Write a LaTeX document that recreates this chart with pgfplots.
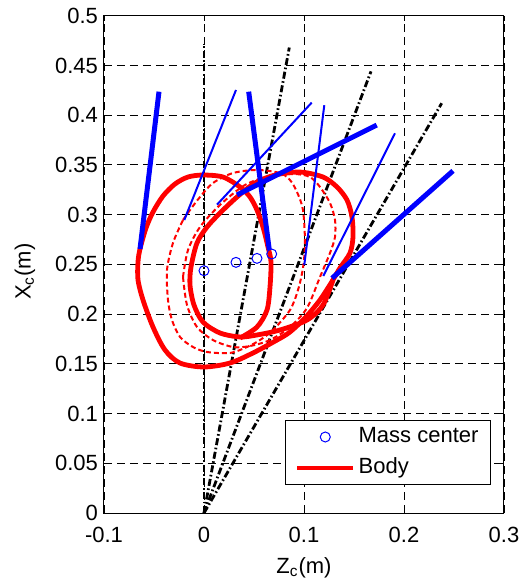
\documentclass[border=0pt]{standalone}
\usepackage{fontspec}
\setmainfont{Liberation Sans}
\usepackage{pgfplots}
\pgfplotsset{compat=1.18}
\definecolor{mblue}{RGB}{0,0,255}
\definecolor{mred}{RGB}{255,0,0}
\begin{document}
\begin{tikzpicture}[font=\fontsize{11bp}{13bp}\selectfont]
\useasboundingbox (-52bp,-33.5bp) rectangle (207.5bp,256.5bp);
\begin{axis}[
  scale only axis, width=200bp, height=248.65bp,
  xmin=-0.1, xmax=0.3, ymin=0, ymax=0.5,
  xtick={-0.1,0,0.1,0.2,0.3}, xticklabels={-0.1,0,0.1,0.2,0.3},
  ytick={0,0.05,0.1,0.15,0.2,0.25,0.3,0.35,0.4,0.45,0.5},
  yticklabels={0,0.05,0.1,0.15,0.2,0.25,0.3,0.35,0.4,0.45,0.5},
  tick align=inside, major tick length=2.5bp,
  tick style={black, line width=0.4bp},
  axis line style={black, line width=0.5bp},
  grid=major, grid style={black, line width=0.45bp, dash pattern=on 4bp off 2.5bp},
  xticklabel style={yshift=-3.5bp},
  yticklabel style={xshift=0.5bp},
  xlabel={Z\textsubscript{c}(m)}, ylabel={X\textsubscript{c}(m)},
  xlabel style={at={(axis description cs:0.5,-0.11)}, anchor=center},
  ylabel style={at={(axis description cs:-0.1975,0.485)}, anchor=center, rotate=0},
  legend cell align=left,
  legend image code/.code={\draw[mark repeat=2,mark phase=2,#1] plot coordinates {(0bp,0bp) (14bp,0bp) (28bp,0bp)};},
  legend style={at={(rel axis cs:0.9675,0.0563)}, anchor=south east, draw=black, line width=0.5bp,
    inner xsep=4.5bp, inner ysep=1.5bp, row sep=2bp,
    nodes={inner sep=1.5bp, text height=8bp, text depth=2.5bp},
    /tikz/every even column/.append style={column sep=0bp}},
]
% dash-dot rays
\addplot[forget plot, black, line width=1.4bp, dash pattern=on 3.5bp off 1.3bp on 0.8bp off 1.3bp] coordinates {(0,0) (0,0.472)};
\addplot[forget plot, black, line width=1.4bp, dash pattern=on 3.5bp off 1.3bp on 0.8bp off 1.3bp] coordinates {(0,0) (0.0853,0.468)};
\addplot[forget plot, black, line width=1.4bp, dash pattern=on 3.5bp off 1.3bp on 0.8bp off 1.3bp] coordinates {(0,0) (0.167,0.444)};
\addplot[forget plot, black, line width=1.4bp, dash pattern=on 3.5bp off 1.3bp on 0.8bp off 1.3bp] coordinates {(0,0) (0.2377,0.412)};
% red dashed loops
\addplot[forget plot, mred, line width=1bp, dash pattern=on 2.5bp off 1.5bp, smooth] coordinates {
(-0.021,0.2946) (-0.014,0.3046) (-0.004,0.3177) (0.009,0.3318) (0.029,0.3418) (0.053,0.3449)
(0.076,0.3418) (0.086,0.3348) (0.093,0.3227) (0.099,0.3046) (0.101,0.2715) (0.099,0.2464)
(0.094,0.2242) (0.086,0.2041) (0.069,0.1840) (0.056,0.1739) (0.043,0.1669) (0.026,0.1609)
(0.003,0.1619) (-0.011,0.1669) (-0.024,0.1770) (-0.032,0.1940) (-0.036,0.2142) (-0.037,0.2443)
(-0.031,0.2715) (-0.021,0.2946)};
\addplot[forget plot, mred, line width=1bp, dash pattern=on 2.5bp off 1.5bp, smooth] coordinates {
(-0.021,0.2373) (-0.016,0.2644) (-0.004,0.2875) (0.016,0.3097) (0.041,0.3298) (0.066,0.3388)
(0.091,0.3408) (0.106,0.3378) (0.116,0.3278) (0.126,0.3117) (0.131,0.2946) (0.131,0.2775)
(0.126,0.2614) (0.116,0.2373) (0.103,0.2061) (0.086,0.1870) (0.066,0.1739) (0.046,0.1679)
(0.029,0.1669) (0.009,0.1739) (-0.007,0.1870) (-0.017,0.2091) (-0.021,0.2373)};
% red solid
\addplot[forget plot, mred, line width=2.4bp, smooth] coordinates {
(0.036,0.1759) (0.053,0.1870) (0.063,0.2041) (0.066,0.2272) (0.067,0.2524) (0.064,0.2674)
(0.059,0.2875) (0.053,0.3046) (0.046,0.3177) (0.036,0.3278) (0.019,0.3378) (-0.001,0.3398)
(-0.016,0.3378) (-0.029,0.3308) (-0.041,0.3187) (-0.051,0.3026) (-0.058,0.2865) (-0.064,0.2654)
(-0.066,0.2524) (-0.066,0.2343) (-0.061,0.2142) (-0.051,0.1870) (-0.039,0.1639) (-0.024,0.1508)
(0.000,0.1468) (0.026,0.1508) (0.049,0.1609) (0.073,0.1739) (0.086,0.1820) (0.101,0.1961)
(0.116,0.2142) (0.129,0.2343)};
\addplot[forget plot, mred, line width=2.4bp, smooth] coordinates {
(0.129,0.2343) (0.136,0.2464) (0.146,0.2614) (0.149,0.2775) (0.148,0.2976) (0.143,0.3147)
(0.133,0.3278) (0.119,0.3378) (0.096,0.3428) (0.071,0.3398) (0.051,0.3318) (0.033,0.3177)
(0.016,0.3016) (0.003,0.2875) (-0.007,0.2715) (-0.013,0.2473) (-0.014,0.2292) (-0.010,0.2091)
(-0.001,0.1920) (0.016,0.1810) (0.036,0.1770) (0.053,0.1790) (0.076,0.1840) (0.103,0.1940)
(0.119,0.2091) (0.129,0.2343)};
% thin blue
\addplot[forget plot, mblue, line width=1bp] coordinates {(-0.0197,0.2946) (0.032,0.4253)};
\addplot[forget plot, mblue, line width=1bp] coordinates {(0.013,0.310) (0.1077,0.4126)};
\addplot[forget plot, mblue, line width=1bp] coordinates {(0.1003,0.2494) (0.1203,0.410)};
\addplot[forget plot, mblue, line width=1bp] coordinates {(0.1193,0.2383) (0.191,0.3818)};
% thick blue
\addplot[forget plot, mblue, line width=2.5bp] coordinates {(-0.064,0.2654) (-0.045,0.4236)};
\addplot[forget plot, mblue, line width=2.5bp] coordinates {(0.0447,0.4236) (0.0653,0.2644)};
\addplot[forget plot, mblue, line width=2.5bp] coordinates {(0.033,0.3198) (0.1727,0.390)};
\addplot[forget plot, mblue, line width=2.5bp] coordinates {(0.128,0.236) (0.249,0.344)};
% mass centers
\addplot[only marks, mark=o, mblue, mark size=2.5bp, mark options={line width=0.5bp}] coordinates {
(0,0.2436) (0.032,0.252) (0.053,0.256) (0.0677,0.2604)};
\addlegendentry{Mass center}
\addlegendimage{mred, line width=2.4bp}
\addlegendentry{Body}
\end{axis}
\end{tikzpicture}
\end{document}
